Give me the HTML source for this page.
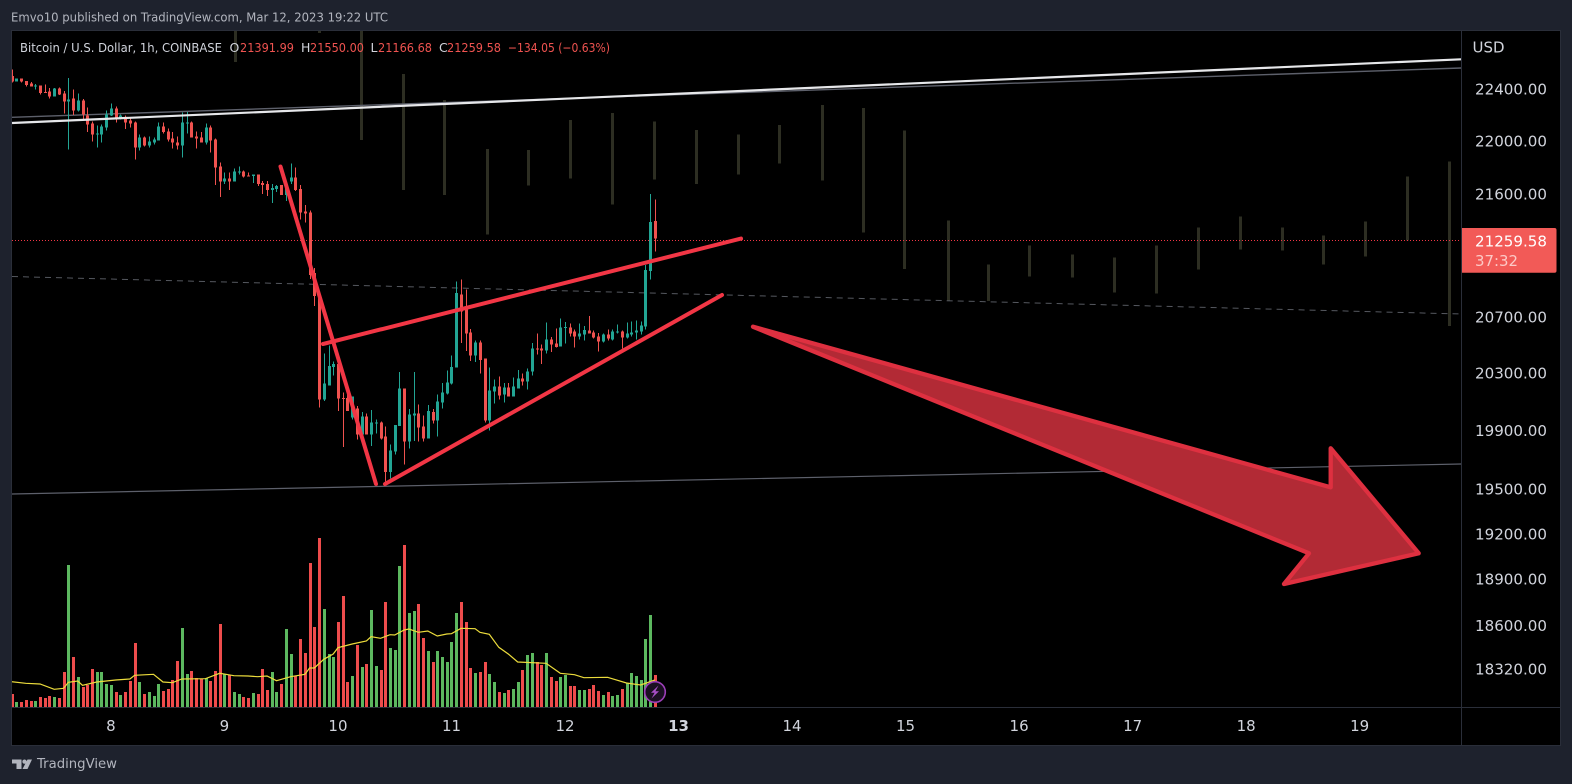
<!DOCTYPE html>
<html lang="en">
<head>
<meta charset="utf-8">
<title>Bitcoin / U.S. Dollar 1h</title>
<style>
html,body{margin:0;padding:0;width:1572px;height:784px;overflow:hidden;background:#1e222d}
svg{display:block;font-family:"DejaVu Sans","Liberation Sans",sans-serif}
</style>
</head>
<body>
<svg id="root" xmlns="http://www.w3.org/2000/svg" width="1572" height="784" viewBox="0 0 1572 784">
  <defs>
    <clipPath id="pane"><rect x="12" y="31" width="1449" height="676"/></clipPath>
  </defs>
  <rect width="1572" height="784" fill="#1e222d"/>
  <text x="11" y="21.5" font-size="12.5" fill="#b2b5be" textLength="377" lengthAdjust="spacingAndGlyphs">Emvo10 published on TradingView.com, Mar 12, 2023 19:22 UTC</text>
  <rect x="11.5" y="30.5" width="1549" height="715" fill="#000" stroke="#2a2e39"/>

  <g id="ghosts" clip-path="url(#pane)"></g>

  <line x1="12" y1="117.3" x2="1461" y2="68" stroke="#5d606b" stroke-width="1.4"/>
  <line x1="12" y1="494" x2="1461" y2="464" stroke="#5d606b" stroke-width="1.2"/>
  <line x1="12" y1="276.5" x2="1461" y2="314" stroke="#55585f" stroke-width="1" stroke-dasharray="6 5"/>

  <line id="last-line" x1="12" x2="1461" stroke="#f23645" stroke-width="1" stroke-dasharray="1 2"/>

  <g id="volumes" clip-path="url(#pane)"></g>
  <path id="vol-ma" fill="none" stroke="#ecdc3c" stroke-width="1.2" clip-path="url(#pane)"/>
  <g id="candles" clip-path="url(#pane)"></g>

  <line x1="12" y1="123" x2="1461" y2="59.3" stroke="#e6e7ea" stroke-width="2.2"/>

  <g stroke="#f23645" stroke-width="4" stroke-linecap="round" fill="none">
    <line x1="280.5" y1="166.5" x2="376" y2="484"/>
    <line x1="323" y1="344" x2="741" y2="238.6"/>
    <line x1="385" y1="484" x2="722" y2="295"/>
  </g>
  <polygon points="753,326.7 1330.7,487.3 1330.7,448.3 1418.7,553.3 1284,584 1309,553.3" fill="#b22a35" stroke="#de3040" stroke-width="4.3" stroke-linejoin="round"/>

  <g font-size="12.5">
    <text x="20" y="52" fill="#d1d4dc" textLength="202" lengthAdjust="spacingAndGlyphs">Bitcoin / U.S. Dollar, 1h, COINBASE</text>
    <text x="229.5" y="52" fill="#d1d4dc">O</text>
    <text x="240" y="52" fill="#ef5350" textLength="54" lengthAdjust="spacingAndGlyphs">21391.99</text>
    <text x="301" y="52" fill="#d1d4dc">H</text>
    <text x="310" y="52" fill="#ef5350" textLength="54" lengthAdjust="spacingAndGlyphs">21550.00</text>
    <text x="370.5" y="52" fill="#d1d4dc">L</text>
    <text x="378" y="52" fill="#ef5350" textLength="54" lengthAdjust="spacingAndGlyphs">21166.68</text>
    <text x="439" y="52" fill="#d1d4dc">C</text>
    <text x="447" y="52" fill="#ef5350" textLength="54" lengthAdjust="spacingAndGlyphs">21259.58</text>
    <text x="508" y="52" fill="#ef5350" textLength="102" lengthAdjust="spacingAndGlyphs">−134.05 (−0.63%)</text>
  </g>

  <g>
    <circle cx="655" cy="692" r="10.3" fill="#1b1022" stroke="#9c3fb8" stroke-width="1.6"/>
    <polygon points="658.5,685.5 651,692.8 654.6,692.8 651.5,698.5 659,691.2 655.4,691.2" fill="#a94fc8"/>
  </g>

  <line x1="1461.5" y1="31" x2="1461.5" y2="745" stroke="#2a2e39"/>
  <line x1="12" y1="707.5" x2="1560" y2="707.5" stroke="#2a2e39"/>
  <text x="1472.5" y="52.5" font-size="15.5" fill="#d1d4dc" textLength="32" lengthAdjust="spacingAndGlyphs">USD</text>
  <g id="price-ticks"></g>
  <g id="time-ticks"></g>

  <path d="M1462 228H1554.5a2 2 0 0 1 2 2V270.7a2 2 0 0 1-2 2H1462Z" fill="#f25a57"/>
  <text x="1475" y="246.5" font-size="15" fill="#fff" textLength="72" lengthAdjust="spacingAndGlyphs">21259.58</text>
  <text x="1475" y="266" font-size="15" fill="#fcc9c6" textLength="43" lengthAdjust="spacingAndGlyphs">37:32</text>

  <g>
    <polygon points="12,759.5 21.5,759.5 21.5,769 16.5,769 16.5,763.5 12,763.5" fill="#b2b5be"/>
    <circle cx="24.5" cy="761.6" r="2.1" fill="#b2b5be"/>
    <polygon points="27.5,759.5 32,759.5 27.5,769 22.5,769" fill="#b2b5be"/>
    <text x="37" y="768" font-size="13.5" fill="#b2b5be" textLength="80" lengthAdjust="spacingAndGlyphs">TradingView</text>
  </g>
</svg>

<script>
const opens = [22495,22449,22472,22456,22436,22413,22418,22370,22372,22334,
22395,22357,22296,22319,22227,22303,22189,22127,22046,22043,
22097,22189,22242,22171,22166,22150,22135,21944,22020,21959,
21982,21997,22104,22066,22013,21982,21959,22127,22135,22028,
22020,21982,22097,22005,21798,21684,21707,21684,21753,21760,
21730,21727,21737,21676,21668,21623,21630,21661,21584,21684,
21714,21630,21462,21454,21007,20840,20108,20205,20336,20357,
20117,20117,19981,20045,19865,19988,19865,19941,19946,19849,
19609,19747,19923,20182,19817,19997,20011,19918,19838,20018,
19962,20085,20149,20219,20330,20852,20745,20580,20415,20508,
20393,19962,20163,20198,20142,20191,20129,20184,20253,20233,
20302,20465,20465,20451,20529,20501,20479,20611,20615,20587,
20551,20565,20594,20580,20551,20515,20565,20529,20580,20587,
20544,20565,20580,20587,20623,21024,21391.99];
const closes = [22449,22472,22449,22423,22410,22418,22362,22367,22334,22395,
22349,22296,22311,22227,22303,22196,22120,22043,22051,22104,
22196,22240,22173,22189,22135,22127,21944,22020,21959,21990,
22005,22104,22059,22005,21982,21959,22135,22135,22020,22013,
21982,22097,21997,21791,21684,21707,21684,21760,21760,21722,
21722,21737,21668,21661,21623,21638,21653,21584,21653,21714,
21623,21454,21447,20994,20840,20108,20219,20343,20357,20115,
20112,20027,20126,19865,19988,19863,19946,19946,19838,19609,
19754,19928,20182,19817,20004,20011,19914,19838,20025,19960,
20094,20154,20226,20336,20862,20730,20572,20415,20508,20385,
19962,20170,20198,20136,20191,20129,20198,20253,20233,20302,
20467,20458,20451,20529,20494,20477,20615,20618,20572,20551,
20572,20596,20572,20544,20515,20565,20537,20587,20587,20544,
20572,20580,20594,20630,21031,21383,21259.58];
const highs = [22546,22472,22472,22456,22446,22433,22418,22426,22400,22400,
22403,22377,22479,22387,22357,22314,22250,22143,22112,22120,
22227,22280,22257,22196,22189,22166,22143,22043,22028,22028,
22020,22133,22135,22089,22059,22028,22212,22214,22143,22066,
22059,22127,22112,22013,21829,21753,21753,21783,21798,21768,
21753,21737,21737,21691,21691,21668,21661,21661,21661,21821,
21791,21661,21508,21470,21043,20876,20429,20486,20373,20362,
20154,20142,20126,20062,20020,20011,20032,19969,19953,19918,
19794,19928,20300,20182,20039,20300,20073,19997,20069,20039,
20142,20223,20309,20415,20945,20960,20888,20606,20522,20522,
20393,20330,20246,20267,20223,20223,20260,20313,20288,20323,
20505,20572,20494,20649,20548,20608,20680,20656,20644,20601,
20644,20625,20697,20594,20577,20572,20601,20601,20637,20594,
20649,20658,20666,20658,21067,21592,21550];
const lows = [22444,22449,22441,22413,22410,22387,22349,22367,22319,22334,
22347,22204,21929,22191,22217,22158,22059,21990,21944,21982,
22074,22184,22135,22158,22082,22097,21852,21921,21951,21944,
21967,21997,22051,21990,21936,21929,21867,22051,22020,21936,
21979,21967,21906,21661,21569,21668,21623,21684,21737,21714,
21722,21676,21653,21592,21577,21523,21607,21584,21538,21668,
21615,21401,21378,20965,20768,20050,20096,20205,20274,20027,
19777,20027,19969,19831,19861,19863,19784,19872,19831,19542,
19565,19727,19923,19657,19768,19819,19817,19817,19838,19941,
19851,20045,20142,20212,20330,20505,20448,20378,20371,20288,
19946,19893,20080,20108,20085,20129,20129,20184,20205,20177,
20274,20422,20357,20429,20439,20474,20479,20501,20551,20472,
20529,20522,20572,20537,20443,20508,20522,20522,20572,20465,
20537,20551,20529,20565,20601,20960,21166.68];
const volumes = [39,15,15,21,18,18,30,27,33,30,
27,105,426,150,90,60,66,114,105,105,
69,66,45,36,45,78,192,75,39,45,
33,69,48,54,81,138,237,99,108,87,
84,87,78,108,249,99,96,45,39,30,
27,42,39,114,51,105,45,69,234,159,
93,204,162,432,240,507,294,159,150,255,
333,75,93,186,120,129,291,123,111,315,
177,171,423,486,282,288,309,207,168,135,
168,150,135,195,282,315,255,117,102,105,
135,99,75,45,42,51,54,75,111,156,
162,135,126,162,90,78,90,96,63,63,
51,51,54,66,48,36,45,33,36,54,
72,102,93,81,204,276,96];
const volumeMaIndex = [0,3,6,9,11,12,14,15,18,22,25,26,30,32,34,36,41,44,47,50,52,54,56,59,62,63,64,66,68,69,72,75,76,78,80,81,83,84,86,88,90,92,93,95,98,99,101,103,105,107,113,116,119,121,126,130,133,136];
const volumeMaValues = [76,71,69,53,56,74,78,65,75,81,84,95,98,75,73,84,85,101,94,93,91,93,79,91,98,117,117,143,159,178,189,198,211,206,217,216,231,234,224,228,213,219,220,236,235,224,218,179,159,135,131,101,97,88,89,72,66,81];
const ghostIndex = [47.2,65,73.9,82.75,91.4,100.5,109.2,118.05,126.9,135.8,144.7,153.6,162.2,171.3,180,188.7,197.9,206.5,215.2,224.1,233,241.9,250.8,259.7,268.6,277.3,286.2,295.1,303.9];
const ghostHighs = [22900,22950,22950,22509,22307,21933,21924,22153,22207,22143,22076,22042,22113,22269,22246,22074,21393,21069,21209,21142,21120,21209,21342,21424,21342,21283,21386,21723,21838];
const ghostLows = [22603,22831,22000,21622,21584,21289,21654,21707,21512,21699,21665,21738,21822,21693,21305,21039,20807,20807,20982,20975,20866,20858,21032,21179,21172,21069,21127,21246,20626];
const priceTicks = [22400,22000,21600,20700,20300,19900,19500,19200,18900,18600,18320];
const dayTicks = [8,9,10,11,12,13,14,15,16,17,18,19];
const lastPrice = 21259.58;

const NS = 'http://www.w3.org/2000/svg';
const RED = '#f0524f', GREEN = '#22a594', VOL_RED = '#ee4c4c', VOL_GREEN = '#5cb85f';
function xOf(i){ return 11.6 + 4.73 * i; }
function yOf(p){ return 88 + 2884 * Math.log(22400 / p); }
function yVol(v){ return 707 - v / 3; }
function dayIndex(d){ return 21 + 24 * (d - 8); }
function make(tag, parent){ const e = document.createElementNS(NS, tag); parent.appendChild(e); return e; }
function setRect(e, x, y, w, h, fill){
  e.setAttribute('x', x); e.setAttribute('y', y); e.setAttribute('width', w); e.setAttribute('height', h);
  e.setAttribute('fill', fill); e.setAttribute('shape-rendering', 'crispEdges');
}

const ghostLayer = document.getElementById('ghosts');
ghostIndex.forEach((g, k) => {
  const b = make('rect', ghostLayer);
  
  
  const top = yOf(ghostHighs[k]);
  setRect(b, Math.round(xOf(g)) - 1, top, 3, yOf(ghostLows[k]) - top, '#2d2e22');
});

const volLayer = document.getElementById('volumes');
volumes.forEach((v, i) => {
  const b = make('rect', volLayer);
  
  
  setRect(b, Math.round(xOf(i)) - 1, yVol(v), 3, v / 3, closes[i] < opens[i] ? VOL_RED : VOL_GREEN);
});

document.getElementById('vol-ma').setAttribute('d',
  volumeMaIndex.map((ix, k) => (k ? 'L' : 'M') + xOf(ix).toFixed(1) + ' ' + yVol(volumeMaValues[k]).toFixed(1)).join(''));

const candleLayer = document.getElementById('candles');
opens.forEach((o, i) => {
  const c = closes[i];
  const col = c < o ? RED : GREEN;
  const px = Math.round(xOf(i));
  const g = make('g', candleLayer);
  
  
  const wick = make('rect', g);
  
  
  setRect(wick, px, yOf(highs[i]), 1, Math.max(1, yOf(lows[i]) - yOf(highs[i])), col);
  const body = make('rect', g);
  
  
  const t = yOf(Math.max(o, c));
  setRect(body, px - 1, t, 3, Math.max(1, yOf(Math.min(o, c)) - t), col);
});

const lastY = Math.floor(yOf(lastPrice) + 1.6) + 0.5;
const lastLine = document.getElementById('last-line');
lastLine.setAttribute('y1', lastY);
lastLine.setAttribute('y2', lastY);

const priceLayer = document.getElementById('price-ticks');
priceTicks.forEach(p => {
  const t = make('text', priceLayer);
  
  
  t.setAttribute('x', 1475);
  t.setAttribute('y', yOf(p) + 6.7);
  t.setAttribute('font-size', 15);
  t.setAttribute('fill', '#d1d4dc');
  t.setAttribute('textLength', 72);
  t.setAttribute('lengthAdjust', 'spacingAndGlyphs');
  t.textContent = p.toFixed(2);
});

const timeLayer = document.getElementById('time-ticks');
dayTicks.forEach(d => {
  const t = make('text', timeLayer);
  
  
  t.setAttribute('x', xOf(dayIndex(d)));
  t.setAttribute('y', 731);
  t.setAttribute('text-anchor', 'middle');
  t.setAttribute('font-size', 15);
  t.setAttribute('fill', '#d1d4dc');
  if (d === 13) t.setAttribute('font-weight', 'bold');
  t.textContent = d;
});
</script>
</body>
</html>
